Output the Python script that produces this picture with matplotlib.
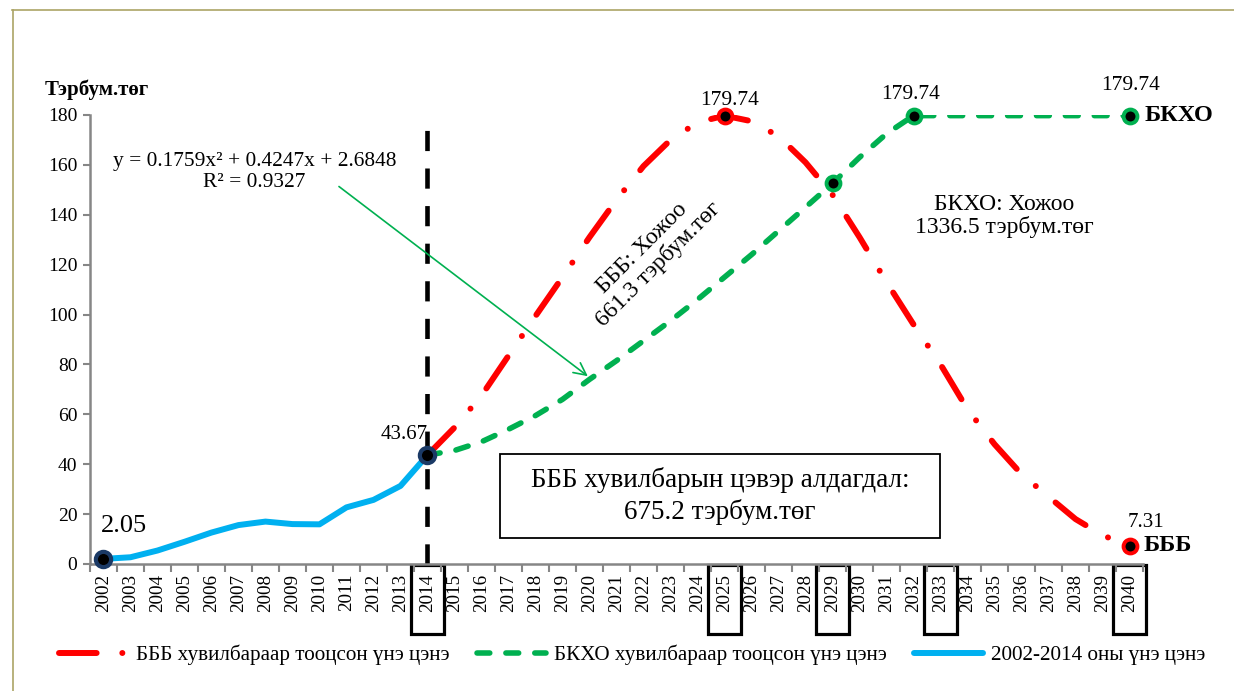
import matplotlib.pyplot as plt
from matplotlib.patches import Rectangle
from matplotlib.lines import Line2D
import numpy as np

plt.rcParams['font.family'] = ['Liberation Serif', 'DejaVu Serif']

# data
years = list(range(2002, 2041))
hist_years = list(range(2002, 2015))
hist_vals = [2.05, 2.7, 5.4, 8.9, 12.6, 15.6, 17.0, 16.0, 15.9, 22.7, 25.7, 31.3, 43.67]

fc_years = list(range(2014, 2041))
bbb_vals = [43.67, 54.7, 67.5, 83.5, 99.4, 115, 131, 146, 159.5, 170, 177, 179.74, 177.5,
            171.5, 161, 148, 131, 113, 96, 80, 62, 48, 36, 27, 18, 11.5, 7.31]
bkho_vals = [43.67, 45.5, 49, 54, 59.5, 66, 74, 81.5, 89.5, 97.5, 106, 115, 124,
             133.5, 143, 152.6, 163, 172.5, 179.74, 179.74, 179.74, 179.74, 179.74,
             179.74, 179.74, 179.74, 179.74]

boxed_years = [2014, 2025, 2029, 2033, 2040]
labels = ['БББ хувилбараар тооцсон үнэ цэнэ',
          'БКХО хувилбараар тооцсон үнэ цэнэ',
          '2002-2014 оны үнэ цэнэ']

RED = '#FF0000'
GREEN = '#00B050'
BLUE = '#00B0F0'
NAVY = '#1B3A66'
GRAY = '#868686'

fig = plt.figure(figsize=(12.34, 6.91), dpi=100)
ax = fig.add_axes([0.0729, 0.1838, 0.8534, 0.6498])

# split line at last historical year
ax.vlines(hist_years[-1], 0, 175, colors='black', lw=3.3, linestyles=(0, (4.4, 3.8)), zorder=2)

l_red, = ax.plot(fc_years, bbb_vals, color=RED, lw=4.3, dashes=(6.3, 4.3, 0.01, 4.3),
                 dash_capstyle='round', zorder=3)
l_green, = ax.plot(fc_years, bkho_vals, color=GREEN, lw=4.0, dashes=(2.3, 2.9),
                   dash_capstyle='round', zorder=3)
l_blue, = ax.plot(hist_years, hist_vals, color=BLUE, lw=4.3, solid_capstyle='round', zorder=4)

# highlighted points
ax.plot(hist_years, hist_vals, ls='none', marker='o', ms=11, mfc='black', mec=NAVY, mew=3,
        markevery=[0, len(hist_years) - 1], zorder=5, clip_on=False)
ax.plot(fc_years, bbb_vals, ls='none', marker='o', ms=10, mfc='black', mec=RED, mew=2.8,
        markevery=[fc_years.index(2025), fc_years.index(2040)], zorder=5, clip_on=False)
ax.plot(fc_years, bkho_vals, ls='none', marker='o', ms=10, mfc='black', mec=GREEN, mew=2.8,
        markevery=[fc_years.index(2029), fc_years.index(2032), fc_years.index(2040)],
        zorder=5, clip_on=False)

# value labels
ax.annotate(f'{hist_vals[0]:.2f}', xy=(hist_years[0], hist_vals[0]), xytext=(15, 24),
            textcoords='offset points', ha='center', va='center', fontsize=19)
ax.annotate(f'{hist_vals[-1]:.2f}', xy=(hist_years[-1], hist_vals[-1]), xytext=(-16.5, 14.5),
            textcoords='offset points', ha='center', va='center', fontsize=15)
i25 = fc_years.index(2025)
ax.annotate(f'{bbb_vals[i25]:.2f}', xy=(2025, bbb_vals[i25]), xytext=(3.6, 11),
            textcoords='offset points', ha='center', va='center', fontsize=15.5)
i32 = fc_years.index(2032)
ax.annotate(f'{bkho_vals[i32]:.2f}', xy=(2032, bkho_vals[i32]), xytext=(-2, 15.5),
            textcoords='offset points', ha='center', va='center', fontsize=15.5)
ax.annotate(f'{bkho_vals[-1]:.2f}', xy=(2040, bkho_vals[-1]), xytext=(0.7, 21.5),
            textcoords='offset points', ha='center', va='center', fontsize=15.5)
ax.annotate(f'{bbb_vals[-1]:.2f}', xy=(2040, bbb_vals[-1]), xytext=(12, 17),
            textcoords='offset points', ha='center', va='center', fontsize=15)
ax.annotate('БКХО', xy=(2040, bkho_vals[-1]), xytext=(11, 0), textcoords='offset points',
            ha='left', va='center', fontsize=17.5, fontweight='bold', annotation_clip=False)
ax.annotate('БББ', xy=(2040, bbb_vals[-1]), xytext=(10, 0), textcoords='offset points',
            ha='left', va='center', fontsize=17.5, fontweight='bold', annotation_clip=False)

# trend equation and arrow
ax.text(2007.6, 157.2, 'y = 0.1759x² + 0.4247x + 2.6848\nR² = 0.9327',
        ha='center', va='center', fontsize=15.4, linespacing=1.15)
ax.annotate('', xy=(2020.02, 74.6), xytext=(2010.64, 152),
            arrowprops=dict(arrowstyle='->', color=GREEN, lw=1.2, mutation_scale=22))

ax.text(2022.24, 123.2, 'БББ: Хожоо\n661.3 тэрбум.төг', rotation=45, rotation_mode='anchor',
        ha='center', va='center', fontsize=17, linespacing=1.1)
ax.text(2035.37, 139.5, 'БКХО: Хожоо\n1336.5 тэрбум.төг', ha='center', va='center',
        fontsize=17, linespacing=1.1)
ax.text(2024.84, 27.3, 'БББ хувилбарын цэвэр алдагдал:\n675.2 тэрбум.төг', ha='center',
        va='center', fontsize=19.5, linespacing=1.3)
ax.add_patch(Rectangle((2024.84 - 8.15, 27.3 - 16.85), 16.3, 33.7, fill=False, ec='black',
                       lw=1.3, zorder=6))

# axes
ax.set_xlim(years[0] - 0.5, years[-1] + 0.5)
ax.set_ylim(0, 180)
ax.set_yticks(np.arange(0, 181, 20))
ax.set_xticks(years)
ax.set_xticklabels([str(y) for y in years], rotation=90, fontsize=13.8)
ax.set_xticks(np.arange(years[0] - 0.5, years[-1] + 1, 1), minor=True)
ax.tick_params(axis='x', which='major', length=0, pad=7)
ax.tick_params(axis='x', which='minor', length=6, width=1.5, color=GRAY)
ax.tick_params(axis='y', length=5, width=1.5, color=GRAY, labelsize=14, pad=4)
for s in ['top', 'right']:
    ax.spines[s].set_visible(False)
for s in ['left', 'bottom']:
    ax.spines[s].set_color(GRAY)
    ax.spines[s].set_linewidth(1.8)

for y in boxed_years:
    ax.add_patch(Rectangle((y - 0.62, -0.155), 1.24, 0.152, transform=ax.get_xaxis_transform(),
                           fill=False, ec='black', lw=2.3, clip_on=False))

fig.text(0.036, 0.87, 'Тэрбум.төг', fontsize=15, fontweight='bold', va='center', ha='left')

ax.legend([l_red, l_green, l_blue], labels, loc='center', bbox_to_anchor=(0.512, 0.052),
          bbox_transform=fig.transFigure, ncol=3, frameon=False, fontsize=15.2,
          handlelength=3.3, handletextpad=0.35, columnspacing=1.3)

# outer frame
fig.add_artist(Line2D([12 / 1234, 1], [1 - 10 / 691, 1 - 10 / 691], transform=fig.transFigure,
                      color='#ABA466', lw=1.2))
fig.add_artist(Line2D([13 / 1234, 13 / 1234], [0, 1 - 10 / 691], transform=fig.transFigure,
                      color='#ABA466', lw=1.2))

fig.savefig('out.png', dpi=100)
